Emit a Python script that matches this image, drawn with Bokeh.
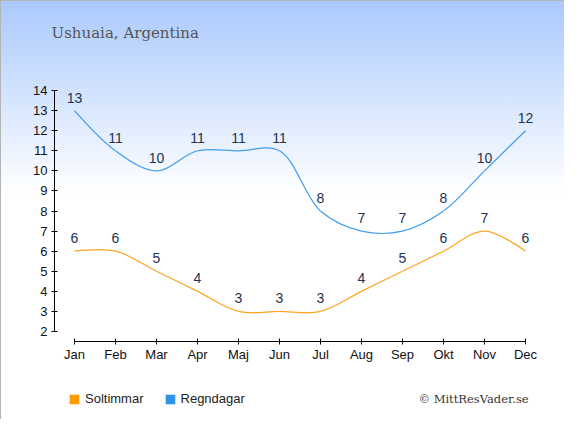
import math
from bokeh.plotting import figure
from bokeh.models import (ColumnDataSource, Label, Legend, LegendItem,
                          FixedTicker, Range1d)
from bokeh.core.properties import value
from bokeh.embed import file_html
from bokeh.resources import INLINE

# ---- data ----
months = ["Jan", "Feb", "Mar", "Apr", "Maj", "Jun", "Jul", "Aug", "Sep", "Okt", "Nov", "Dec"]
soltimmar = [6, 6, 5, 4, 3, 3, 3, 4, 5, 6, 7, 6]
regndagar = [13, 11, 10, 11, 11, 11, 8, 7, 7, 8, 10, 12]
y_ticks = [2, 3, 4, 5, 6, 7, 8, 9, 10, 11, 12, 13, 14]
title_text = "Ushuaia, Argentina"
series_names = ["Soltimmar", "Regndagar"]
credit_text = "\u00a9 MittResVader.se"

# ---- layout (frame covers the whole figure; axes are pinned inside) ----
W, H = 564, 419
PX_M = 41.0      # pixels per month
PX_U = 20.08     # pixels per unit
X0 = -74 / PX_M
X1 = X0 + W / PX_M
Y0 = 2 - (419 - 331) / PX_U
Y1 = Y0 + H / PX_U

p = figure(frame_width=W, frame_height=H, output_backend="svg",
           toolbar_location=None, x_range=Range1d(X0, X1), y_range=Range1d(Y0, Y1),
           min_border=0)
p.background_fill_alpha = 0
p.border_fill_alpha = 0
p.outline_line_color = None
p.styles = {"background": "linear-gradient(to bottom, #a9c9fd 0%, #ffffff 46%)",
            "box-shadow": "inset 1px 1px 0 #b4b4b4"}
p.xgrid.visible = False
p.ygrid.visible = False

xs = list(range(len(months)))

kx = W / (X1 - X0)
ky = H / (Y1 - Y0)


def catmull_rom(xv, yv, alpha=0.5):
    P = [(x * kx, y * ky) for x, y in zip(xv, yv)]
    n = len(P)
    d = lambda a, b: math.hypot(a[0] - b[0], a[1] - b[1])
    out = {k: [] for k in ("x0", "y0", "x1", "y1", "cx0", "cy0", "cx1", "cy1")}
    for i in range(n - 1):
        p1, p2 = P[i], P[i + 1]
        l12 = d(p1, p2)
        l12a, l12_2a = l12 ** alpha, l12 ** (2 * alpha)
        c1 = p1
        if i > 0:
            p0 = P[i - 1]
            l01 = d(p0, p1)
            l01a, l01_2a = l01 ** alpha, l01 ** (2 * alpha)
            a = 2 * l01_2a + 3 * l01a * l12a + l12_2a
            m = 3 * l01a * (l01a + l12a)
            c1 = tuple((p1[k] * a - p0[k] * l12_2a + p2[k] * l01_2a) / m for k in (0, 1))
        c2 = p2
        if i + 2 < n:
            p3 = P[i + 2]
            l23 = d(p2, p3)
            l23a, l23_2a = l23 ** alpha, l23 ** (2 * alpha)
            b = 2 * l23_2a + 3 * l23a * l12a + l12_2a
            m = 3 * l23a * (l23a + l12a)
            c2 = tuple((p2[k] * b + p1[k] * l23_2a - p3[k] * l12_2a) / m for k in (0, 1))
        out["x0"].append(p1[0] / kx); out["y0"].append(p1[1] / ky)
        out["x1"].append(p2[0] / kx); out["y1"].append(p2[1] / ky)
        out["cx0"].append(c1[0] / kx); out["cy0"].append(c1[1] / ky)
        out["cx1"].append(c2[0] / kx); out["cy1"].append(c2[1] / ky)
    return ColumnDataSource(out)


sun_color, sun_sq = "#ffa424", "#ff9900"
rain_color, rain_sq = "#3f9cee", "#3093e8"
label_color = "#233352"

p.bezier(x0="x0", y0="y0", x1="x1", y1="y1", cx0="cx0", cy0="cy0", cx1="cx1", cy1="cy1",
         source=catmull_rom(xs, soltimmar), line_color=sun_color, line_width=1.2)
p.bezier(x0="x0", y0="y0", x1="x1", y1="y1", cx0="cx0", cy0="cy0", cx1="cx1", cy1="cy1",
         source=catmull_rom(xs, regndagar), line_color=rain_color, line_width=1.2)

for vals in (soltimmar, regndagar):
    src = ColumnDataSource(dict(x=xs, y=vals, t=[str(v) for v in vals]))
    p.text(x="x", y="y", text="t", source=src, text_align="center",
           text_baseline="middle", y_offset=-13, text_color=label_color,
           text_font=value("Liberation Sans"), text_font_size="14px")

# axes pinned at fixed data locations
p.xaxis.fixed_location = y_ticks[0] - 10 / PX_U
p.yaxis.fixed_location = xs[0] - 20 / PX_M
p.xaxis.bounds = (0, len(months) - 1)
p.yaxis.bounds = (y_ticks[0], y_ticks[-1])
p.xaxis.ticker = FixedTicker(ticks=xs)
p.xaxis.major_label_overrides = {i: m for i, m in enumerate(months)}
p.yaxis.ticker = FixedTicker(ticks=y_ticks)
for ax in (p.xaxis, p.yaxis):
    ax.axis_line_color = "black"
    ax.major_tick_line_color = "black"
    ax.minor_tick_line_color = None
    ax.major_tick_in = 3
    ax.major_tick_out = 3
    ax.major_label_text_font = "Liberation Sans"
    ax.major_label_text_font_size = "13px"
    ax.major_label_text_color = "#111111"
p.xaxis.major_label_standoff = 2
p.yaxis.major_label_standoff = 4

# legend swatches: zero-area quads on the series points (invisible in the plot)
r_sun = p.quad(left=xs, right=xs, top=soltimmar, bottom=soltimmar,
               fill_color=sun_sq, line_color=None)
r_rain = p.quad(left=xs, right=xs, top=regndagar, bottom=regndagar,
                fill_color=rain_sq, line_color=None)
legend = Legend(items=[LegendItem(label=series_names[0], renderers=[r_sun]),
                       LegendItem(label=series_names[1], renderers=[r_rain])],
                location=(68, 13), orientation="horizontal",
                glyph_width=12, glyph_height=12, label_standoff=5, spacing=20,
                padding=0, margin=0, border_line_color=None, background_fill_alpha=0,
                label_text_font="Liberation Sans", label_text_font_size="13px",
                label_text_color="#222222")
p.add_layout(legend, "center")

p.add_layout(Label(x=51, y=H - 32, x_units="screen", y_units="screen", text=title_text,
                   text_font="DejaVu Serif", text_font_size="15px", text_color="#555555",
                   text_baseline="middle"))
p.add_layout(Label(x=418, y=H - 398, x_units="screen", y_units="screen", text=credit_text,
                   text_font="DejaVu Serif", text_font_size="11.5px", text_color="#333333",
                   text_baseline="middle"))

open("out.html", "w").write(file_html(p, INLINE))
